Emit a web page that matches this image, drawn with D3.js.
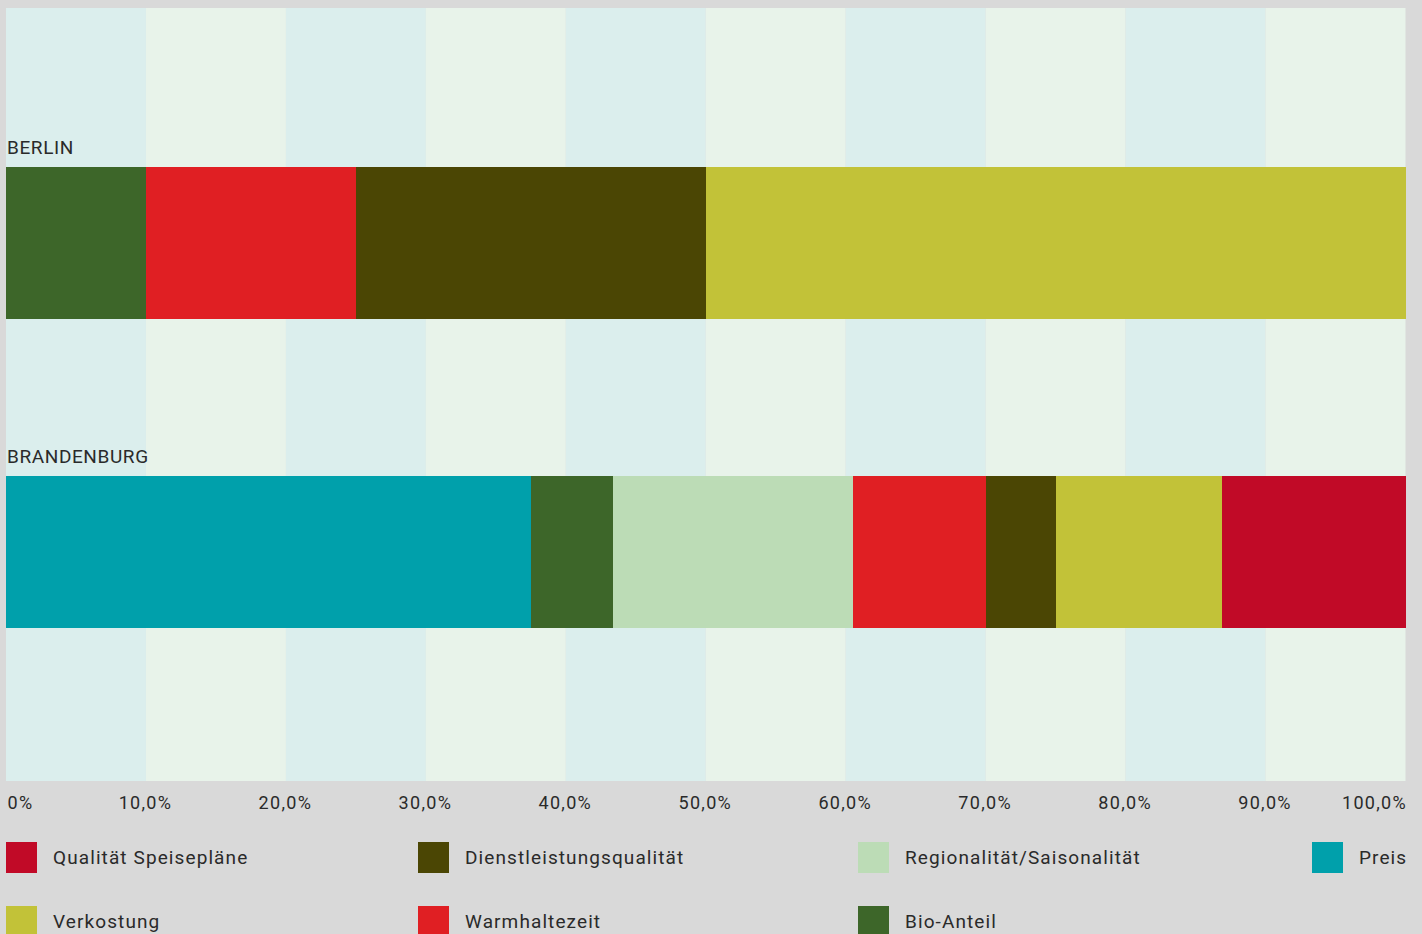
<!DOCTYPE html>
<html>
<head>
<meta charset="utf-8">
<script src="https://cdn.jsdelivr.net/npm/d3@7"></script>
<style>
  html, body { margin: 0; padding: 0; background: #d9d9d9; }
  svg { display: block; font-family: Roboto, "DejaVu Sans", sans-serif; }
</style>
</head>
<body>
<svg id="chart" width="1422" height="934"></svg>
<script>
// Regions (rows) and the share of each criterion, in percent
const regions = ["BERLIN", "BRANDENBURG"];
const criteria = ["Preis", "Bio-Anteil", "Regionalität/Saisonalität", "Warmhaltezeit",
                  "Dienstleistungsqualität", "Verkostung", "Qualität Speisepläne"];
const berlinValues      = [0, 10, 0, 15, 25, 50, 0];
const brandenburgValues = [37.5, 5.9, 17.1, 9.5, 5, 11.9, 13.1];
const colors = ["#00a0ab", "#3d6629", "#bcdcb6", "#e01f23", "#4b4604", "#c2c238", "#c10a27"];
const tickValues = [0, 10, 20, 30, 40, 50, 60, 70, 80, 90, 100];
const tickLabels = ["0%", "10,0%", "20,0%", "30,0%", "40,0%", "50,0%", "60,0%", "70,0%", "80,0%", "90,0%", "100,0%"];
const legendOrder = ["Qualität Speisepläne", "Dienstleistungsqualität", "Regionalität/Saisonalität", "Preis",
                     "Verkostung", "Warmhaltezeit", "Bio-Anteil"];

const svg = d3.select("#chart");
const plot = { left: 6, right: 1405.5, top: 8, bottom: 781 };

const x = d3.scaleLinear().domain([0, 100]).range([plot.left, plot.right]);
const y = d3.scaleBand().domain(regions).range([14, plot.bottom])
  .paddingInner(0.508).paddingOuter(0.495);
const color = d3.scaleOrdinal().domain(criteria).range(colors);

// alternating column bands, one per 10 %
const bands = d3.range(0, 100, 10);
svg.append("g").selectAll("rect").data(bands).join("rect")
  .attr("x", d => x(d))
  .attr("y", plot.top)
  .attr("width", d => x(d + 10) - x(d))
  .attr("height", plot.bottom - plot.top)
  .attr("fill", (d, i) => i % 2 === 0 ? "#dbeeed" : "#e8f3ea");

// stacked bars
const rows = regions.map((r, i) => {
  const vals = i === 0 ? berlinValues : brandenburgValues;
  const o = { region: r };
  criteria.forEach((c, j) => { o[c] = vals[j]; });
  return o;
});
const stack = d3.stack().keys(criteria)(rows);

svg.append("g").selectAll("g").data(stack).join("g")
  .attr("fill", d => color(d.key))
  .selectAll("rect").data(d => d.filter(s => s[1] - s[0] > 0)).join("rect")
  .attr("x", d => x(d[0]))
  .attr("width", d => x(d[1]) - x(d[0]))
  .attr("y", d => y(d.data.region))
  .attr("height", y.bandwidth())
  .attr("shape-rendering", "crispEdges");

// row labels above each bar
svg.append("g").selectAll("text").data(regions).join("text")
  .attr("x", plot.left + 1)
  .attr("y", d => y(d) - 13)
  .attr("font-size", 19)
  .attr("letter-spacing", "0.6px")
  .attr("fill", "#2a2a2a")
  .text(d => d);

// x axis labels
const axis = d3.axisBottom(x).tickValues(tickValues)
  .tickFormat((d, i) => tickLabels[i]).tickSize(0).tickPadding(0);
const ax = svg.append("g").attr("transform", `translate(0,${plot.bottom})`).call(axis);
ax.select(".domain").remove();
ax.selectAll("text")
  .attr("y", 28)
  .attr("dy", null)
  .attr("font-size", 18)
  .attr("letter-spacing", "1.3px")
  .attr("font-family", "Roboto, sans-serif")
  .attr("fill", "#2a2a2a")
  .attr("text-anchor", (d, i) => i === 0 ? "start" : (i === tickValues.length - 1 ? "end" : "middle"))
  .attr("dx", (d, i) => i === 0 ? 1 : (i === tickValues.length - 1 ? 1 : -1));

// legend: 4 columns, 2 rows
const legendCols = [6, 418, 858, 1312];
const legendRows = [842, 906];
const leg = svg.append("g").selectAll("g").data(legendOrder).join("g")
  .attr("transform", (d, i) => `translate(${legendCols[i % 4]},${legendRows[Math.floor(i / 4)]})`);
leg.append("rect").attr("width", 31).attr("height", 31).attr("fill", d => color(d));
leg.append("text").attr("x", 47).attr("y", 22)
  .attr("font-size", 19).attr("letter-spacing", "1.1px").attr("fill", "#2a2a2a")
  .text(d => d);
</script>
</body>
</html>
